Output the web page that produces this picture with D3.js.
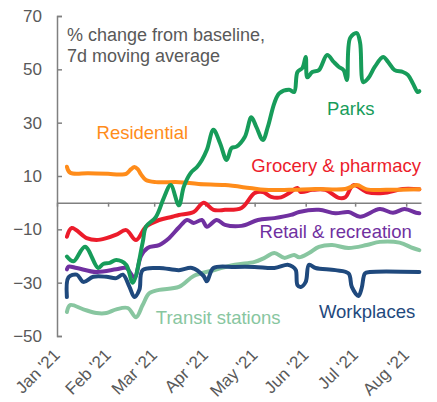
<!DOCTYPE html>
<html>
<head>
<meta charset="utf-8">
<style>
body { margin: 0; background: #fff; }
text { font-family: "Liberation Sans", Arial, sans-serif; }
</style>
</head>
<body>
<script src="https://cdn.jsdelivr.net/npm/d3@7"></script>
<script>
// % change from baseline, 7d moving average
const residential = [
  ["2021-01-07", 13.5], ["2021-01-09", 11.2], ["2021-01-20", 11], ["2021-02-01", 10.8],
  ["2021-02-08", 10.6], ["2021-02-12", 10.8], ["2021-02-15", 12.6], ["2021-02-17", 13.4],
  ["2021-02-19", 12.6], ["2021-02-21", 10.6], ["2021-02-24", 8.5],
  ["2021-03-02", 7.7], ["2021-03-16", 7.7], ["2021-03-28", 7], ["2021-04-13", 6.6],
  ["2021-04-28", 5.5], ["2021-05-07", 4.8], ["2021-05-22", 4.8], ["2021-06-07", 5.1],
  ["2021-06-25", 5.1], ["2021-07-02", 6.6], ["2021-07-08", 5], ["2021-07-20", 4.8],
  ["2021-08-09", 5]
];
const parks = [
  ["2021-01-07", -20.2], ["2021-01-11", -22], ["2021-01-18", -16.5], ["2021-01-26", -24.5],
  ["2021-01-29", -23], ["2021-02-02", -22.6], ["2021-02-06", -21.5], ["2021-02-12", -23.3],
  ["2021-02-16", -30], ["2021-02-22", -15], ["2021-02-24", -9], ["2021-03-02", -5.4],
  ["2021-03-07", 2], ["2021-03-11", 6.6], ["2021-03-16", -1], ["2021-03-19", 6],
  ["2021-03-23", 11], ["2021-03-27", 13.4], ["2021-03-30", 16], ["2021-04-02", 19.8],
  ["2021-04-06", 27.3], ["2021-04-10", 22.3], ["2021-04-14", 16], ["2021-04-17", 20.5],
  ["2021-04-20", 21], ["2021-04-25", 24.6], ["2021-04-29", 32], ["2021-05-02", 28.4],
  ["2021-05-06", 23.5], ["2021-05-09", 28.4], ["2021-05-13", 37.4], ["2021-05-16", 41],
  ["2021-05-22", 42.3], ["2021-05-25", 41.5], ["2021-05-27", 49], ["2021-05-30", 50.5],
  ["2021-06-01", 54.6], ["2021-06-02", 47], ["2021-06-05", 49], ["2021-06-09", 49.7],
  ["2021-06-14", 55.4], ["2021-06-18", 52.8], ["2021-06-21", 51], ["2021-06-24", 49.7],
  ["2021-06-26", 46], ["2021-06-28", 61.8], ["2021-07-02", 63.6], ["2021-07-04", 60],
  ["2021-07-06", 45.2], ["2021-07-09", 46.7], ["2021-07-13", 51], ["2021-07-18", 54.6],
  ["2021-07-21", 52.8], ["2021-07-25", 49.7], ["2021-07-30", 49], ["2021-08-02", 47.9],
  ["2021-08-05", 44.8], ["2021-08-08", 41.5], ["2021-08-09", 41.8]
];
const grocery = [
  ["2021-01-07", -12.8], ["2021-01-10", -9.5], ["2021-01-19", -13.3], ["2021-01-25", -14],
  ["2021-01-31", -13.3], ["2021-02-06", -12], ["2021-02-12", -10.3], ["2021-02-18", -14],
  ["2021-02-24", -9], ["2021-03-04", -6.5], ["2021-03-12", -5.3], ["2021-03-16", -4.6],
  ["2021-03-25", -3.5], ["2021-03-31", 0], ["2021-04-06", -2.7], ["2021-04-13", -2.7],
  ["2021-04-23", -2], ["2021-05-01", 3.6], ["2021-05-06", 4], ["2021-05-11", 2.2],
  ["2021-05-17", 2], ["2021-05-22", 3.6], ["2021-05-27", 5.5], ["2021-05-29", 4],
  ["2021-06-05", 4.8], ["2021-06-13", 4.8], ["2021-06-21", 1.8], ["2021-06-25", 2],
  ["2021-06-30", 6.6], ["2021-07-08", 4], ["2021-07-18", 3.6], ["2021-07-30", 5.1],
  ["2021-08-09", 5]
];
const retail = [
  ["2021-01-07", -25], ["2021-01-08", -24], ["2021-01-13", -24.5], ["2021-01-25", -26],
  ["2021-02-06", -25], ["2021-02-12", -24.5], ["2021-02-17", -28], ["2021-02-21", -20],
  ["2021-02-25", -17], ["2021-03-04", -15.9], ["2021-03-10", -13.3], ["2021-03-16", -9.3],
  ["2021-03-21", -6.5], ["2021-03-25", -7.6], ["2021-03-30", -6.5], ["2021-04-02", -9],
  ["2021-04-08", -6.5], ["2021-04-13", -8.3], ["2021-04-23", -8.7], ["2021-05-03", -6.5],
  ["2021-05-13", -5.8], ["2021-05-23", -4.6], ["2021-05-28", -3.5], ["2021-06-09", -2.7],
  ["2021-06-19", -4], ["2021-06-27", -3.5], ["2021-07-04", -5.3], ["2021-07-16", -2.4],
  ["2021-07-24", -3.8], ["2021-07-31", -2.4], ["2021-08-07", -3.8], ["2021-08-09", -4]
];
const transit = [
  ["2021-01-07", -41], ["2021-01-09", -38.4], ["2021-01-17", -40], ["2021-01-25", -41.4],
  ["2021-01-31", -41.4], ["2021-02-06", -40], ["2021-02-13", -39.5], ["2021-02-18", -43],
  ["2021-02-22", -38.4], ["2021-02-26", -34], ["2021-03-04", -32.7], ["2021-03-16", -31.6],
  ["2021-03-25", -27.5], ["2021-04-05", -25.5], ["2021-04-19", -23.3], ["2021-05-01", -22.2],
  ["2021-05-07", -20.7], ["2021-05-13", -18.9], ["2021-05-19", -20.7], ["2021-05-25", -19.6],
  ["2021-05-28", -20.5], ["2021-06-03", -18.9], ["2021-06-09", -16.6], ["2021-06-17", -15.9],
  ["2021-06-27", -17], ["2021-07-08", -15.9], ["2021-07-16", -14.7], ["2021-07-28", -15],
  ["2021-08-05", -17], ["2021-08-09", -17.8]
];
const workplaces = [
  ["2021-01-07", -35.4], ["2021-01-08", -28], ["2021-01-13", -27], ["2021-01-17", -29.7],
  ["2021-01-23", -27.8], ["2021-01-31", -27.8], ["2021-02-06", -28.3], ["2021-02-10", -27],
  ["2021-02-14", -31.6], ["2021-02-17", -35.4], ["2021-02-20", -32.7], ["2021-02-22", -25.3],
  ["2021-03-04", -24.5], ["2021-03-16", -25.3], ["2021-03-24", -24.5], ["2021-03-31", -27.5],
  ["2021-04-02", -29.5], ["2021-04-06", -24.5], ["2021-04-19", -24.1], ["2021-05-01", -24.1],
  ["2021-05-13", -24.5], ["2021-05-21", -23.3], ["2021-05-24", -24], ["2021-05-26", -25.3],
  ["2021-05-27", -30.9], ["2021-05-29", -31.6], ["2021-06-01", -29.7], ["2021-06-03", -23.3],
  ["2021-06-07", -24.5], ["2021-06-19", -25.3], ["2021-06-27", -26.5], ["2021-06-29", -31.6],
  ["2021-07-03", -35], ["2021-07-05", -32], ["2021-07-07", -26.5], ["2021-07-10", -26],
  ["2021-08-09", -26]
];

const yTicks = [-50, -30, -10, 10, 30, 50, 70];
const monthTicks = ["2021-01-01", "2021-02-01", "2021-03-01", "2021-04-01",
                    "2021-05-01", "2021-06-01", "2021-07-01", "2021-08-01"];
const titleLines = ["% change from baseline,", "7d moving average"];

// draw order, back to front; label position in data space
const series = [
  {name: "Transit stations", data: transit, color: "#88c6a0", lab: ["2021-03-02", -45.6]},
  {name: "Workplaces", data: workplaces, color: "#1f497d", lab: ["2021-06-09", -43.4]},
  {name: "Retail & recreation", data: retail, color: "#7030a0", lab: ["2021-05-04", -13.3]},
  {name: "Grocery & pharmacy", data: grocery, color: "#ec1c2b", lab: ["2021-04-29", 11.6]},
  {name: "Residential", data: residential, color: "#ff8c1a", lab: ["2021-01-25", 24]},
  {name: "Parks", data: parks, color: "#179c5a", lab: ["2021-06-14", 33]}
];

const W = 437, H = 402;
const parse = d3.timeParse("%Y-%m-%d");

const svg = d3.select("body").append("svg")
    .attr("width", W)
    .attr("height", H);

const x = d3.scaleTime()
    .domain([parse("2021-01-01"), parse("2021-08-10")])
    .range([57, 421]);
const y = d3.scaleLinear()
    .domain([-50, 70])
    .range([336, 16]);

// y axis, ticks pointing inwards
const yAxis = svg.append("g")
    .attr("transform", `translate(${x.range()[0]},0)`)
    .call(d3.axisLeft(y).tickValues(yTicks).tickSizeInner(-5).tickSizeOuter(-5).tickPadding(15));
yAxis.select(".domain").attr("stroke", "#808080").attr("stroke-width", 1.5);
yAxis.selectAll(".tick line").attr("stroke", "#808080").attr("stroke-width", 1.5);
yAxis.selectAll(".tick text")
    .attr("fill", "#595959")
    .style("font-size", "17px")
    .style("font-family", "'Liberation Sans', Arial, sans-serif");

// x axis on the zero line
const xAxis = svg.append("g")
    .attr("transform", `translate(0,${y(0)})`)
    .call(d3.axisBottom(x).tickValues(monthTicks.map(parse)).tickSizeInner(4).tickSizeOuter(0).tickFormat(""));
xAxis.select(".domain").attr("stroke", "#808080").attr("stroke-width", 1.5);
xAxis.selectAll(".tick line").attr("stroke", "#808080").attr("stroke-width", 1.5);

// month labels down at the bottom, rotated
svg.append("g").selectAll("text")
    .data(monthTicks)
    .join("text")
    .attr("transform", d => `translate(${x(parse(d)) + 4},356) rotate(-45)`)
    .attr("text-anchor", "end")
    .attr("fill", "#595959")
    .style("font-size", "17px")
    .text(d => d3.timeFormat("%b '%y")(parse(d)));

// title
svg.append("g").selectAll("text")
    .data(titleLines)
    .join("text")
    .attr("x", 67)
    .attr("y", (d, i) => 41 + i * 21)
    .attr("fill", "#595959")
    .style("font-size", "18px")
    .text(d => d);

const line = d3.line()
    .curve(d3.curveCatmullRom.alpha(0.5))
    .x(d => x(parse(d[0])))
    .y(d => y(d[1]));

svg.append("g").selectAll("path")
    .data(series)
    .join("path")
    .attr("fill", "none")
    .attr("stroke", d => d.color)
    .attr("stroke-width", 4)
    .attr("stroke-linejoin", "round")
    .attr("stroke-linecap", "round")
    .attr("d", d => line(d.data));

svg.append("g").selectAll("text")
    .data(series)
    .join("text")
    .attr("x", d => x(parse(d.lab[0])))
    .attr("y", d => y(d.lab[1]))
    .attr("fill", d => d.color)
    .style("font-size", "18.5px")
    .text(d => d.name);
</script>
</body>
</html>
